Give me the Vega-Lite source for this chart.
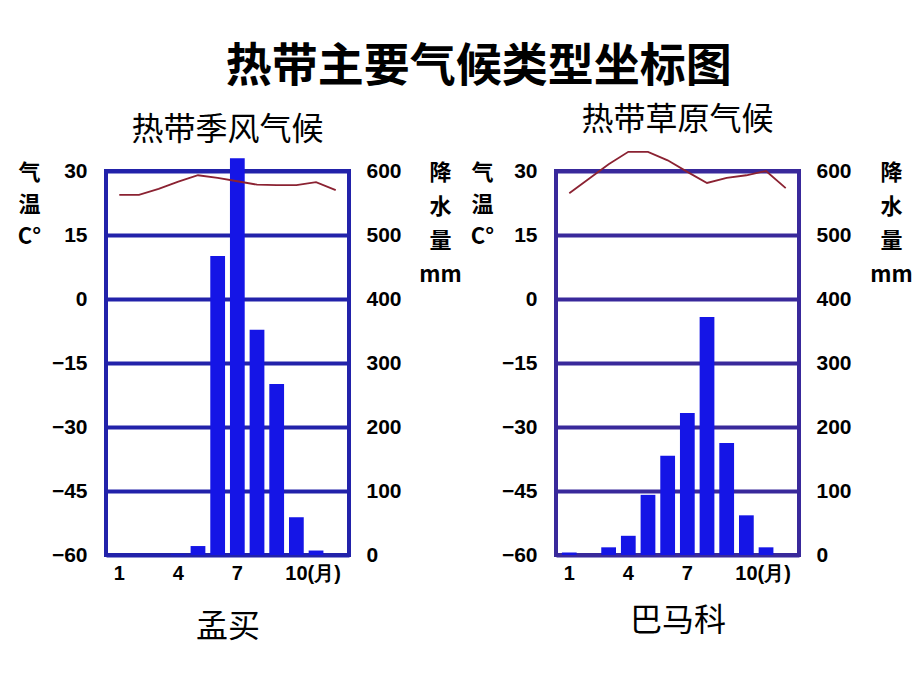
{
  "$schema": "https://vega.github.io/schema/vega-lite/v6.json",
  "background": "white",
  "padding": {"left": 15, "top": 44, "right": 10, "bottom": 10},
  "title": {"text": "热带主要气候类型坐标图", "font": "Noto Sans CJK SC", "fontSize": 46, "fontWeight": "bold", "color": "black", "anchor": "middle", "offset": 11, "dx": 14},
  "datasets": {
    "mumbai": [
      {"month": 1, "temp": 24.4, "precip": 0},
      {"month": 2, "temp": 24.4, "precip": 0},
      {"month": 3, "temp": 25.8, "precip": 0},
      {"month": 4, "temp": 27.5, "precip": 1},
      {"month": 5, "temp": 29.0, "precip": 14},
      {"month": 6, "temp": 28.4, "precip": 467},
      {"month": 7, "temp": 27.6, "precip": 620},
      {"month": 8, "temp": 26.8, "precip": 352},
      {"month": 9, "temp": 26.7, "precip": 267},
      {"month": 10, "temp": 26.7, "precip": 59},
      {"month": 11, "temp": 27.4, "precip": 7},
      {"month": 12, "temp": 25.5, "precip": 0}
    ],
    "bamako": [
      {"month": 1, "temp": 24.8, "precip": 4},
      {"month": 2, "temp": 28.2, "precip": 0},
      {"month": 3, "temp": 31.6, "precip": 12},
      {"month": 4, "temp": 34.5, "precip": 30},
      {"month": 5, "temp": 34.5, "precip": 94},
      {"month": 6, "temp": 32.5, "precip": 155},
      {"month": 7, "temp": 29.8, "precip": 222},
      {"month": 8, "temp": 27.2, "precip": 372},
      {"month": 9, "temp": 28.4, "precip": 175},
      {"month": 10, "temp": 29.0, "precip": 62},
      {"month": 11, "temp": 30.0, "precip": 12},
      {"month": 12, "temp": 26.0, "precip": 0}
    ]
  },
  "spacing": 207,
  "bounds": "flush",
  "hconcat": [
    {
      "data": {"name": "mumbai"},
      "width": 243,
      "height": 384,
      "title": {"text": "热带季风气候", "font": "Noto Sans CJK SC", "fontSize": 32, "fontWeight": "normal", "color": "black", "offset": 11},
      "view": {"stroke": "#2222aa", "strokeWidth": 4},
      "encoding": {
        "x": {
          "field": "month", "type": "ordinal",
          "scale": {"paddingInner": 0.25, "paddingOuter": 0.3},
          "axis": {
            "values": [1, 4, 7, 10], "labelAngle": 0, "ticks": false, "domain": false,
            "labelFont": "Liberation Sans", "labelFontSize": 20, "labelFontWeight": "bold", "labelColor": "black", "labelPadding": 8,
            "labelExpr": "datum.value == 10 ? '10(月)' : datum.label",
            "labelAlign": {"condition": {"test": "datum.value == 10", "value": "left"}, "value": "center"},
            "labelOffset": {"condition": {"test": "datum.value == 10", "value": -11}, "value": 0},
            "title": "孟买", "titleFont": "Noto Sans CJK SC", "titleFontSize": 32, "titleFontWeight": "normal", "titleColor": "black", "titlePadding": 28
          }
        }
      },
      "layer": [
        {
          "mark": {"type": "bar", "color": "#1515e6"},
          "encoding": {
            "y": {
              "field": "precip", "type": "quantitative",
              "scale": {"domain": [0, 600], "nice": false},
              "axis": {
                "orient": "right", "values": [0, 100, 200, 300, 400, 500, 600], "grid": false, "ticks": false, "domain": false,
                "labelFont": "Liberation Sans", "labelFontSize": 21, "labelFontWeight": "bold", "labelColor": "black", "labelPadding": 17,
                "title": ["降", "水", "量", "mm"], "titleAngle": 0, "titleX": 91, "titleY": -9, "titleAlign": "center", "titleBaseline": "top",
                "titleFont": "Noto Sans CJK SC", "titleFontSize": 22, "titleFontWeight": "bold", "titleColor": "black", "titleLineHeight": 34
              }
            }
          }
        },
        {
          "mark": {"type": "line", "color": "#8b2232", "strokeWidth": 1.8},
          "encoding": {
            "y": {
              "field": "temp", "type": "quantitative",
              "scale": {"domain": [-60, 30], "nice": false, "zero": false},
              "axis": {
                "orient": "left", "values": [-60, -45, -30, -15, 0, 15, 30], "grid": true, "gridColor": "#2222aa", "gridWidth": 4, "gridOpacity": 1,
                "ticks": false, "domain": false,
                "labelFont": "Liberation Sans", "labelFontSize": 21, "labelFontWeight": "bold", "labelColor": "black", "labelPadding": 19,
                "title": ["气", "温", "C°"], "titleAngle": 0, "titleX": -77, "titleY": -9, "titleAlign": "center", "titleBaseline": "top",
                "titleFont": "Noto Sans CJK SC", "titleFontSize": 22, "titleFontWeight": "bold", "titleColor": "black", "titleLineHeight": 32
              }
            }
          }
        }
      ],
      "resolve": {"scale": {"y": "independent"}, "axis": {"y": "independent"}}
    },
    {
      "data": {"name": "bamako"},
      "width": 243,
      "height": 384,
      "title": {"text": "热带草原气候", "font": "Noto Sans CJK SC", "fontSize": 32, "fontWeight": "normal", "color": "black", "offset": 11},
      "view": {"stroke": "#39299b", "strokeWidth": 4},
      "encoding": {
        "x": {
          "field": "month", "type": "ordinal",
          "scale": {"paddingInner": 0.25, "paddingOuter": 0.3},
          "axis": {
            "values": [1, 4, 7, 10], "labelAngle": 0, "ticks": false, "domain": false,
            "labelFont": "Liberation Sans", "labelFontSize": 20, "labelFontWeight": "bold", "labelColor": "black", "labelPadding": 8,
            "labelExpr": "datum.value == 10 ? '10(月)' : datum.label",
            "labelAlign": {"condition": {"test": "datum.value == 10", "value": "left"}, "value": "center"},
            "labelOffset": {"condition": {"test": "datum.value == 10", "value": -11}, "value": 0},
            "title": "巴马科", "titleFont": "Noto Sans CJK SC", "titleFontSize": 32, "titleFontWeight": "normal", "titleColor": "black", "titlePadding": 22
          }
        }
      },
      "layer": [
        {
          "mark": {"type": "bar", "color": "#1515e6"},
          "encoding": {
            "y": {
              "field": "precip", "type": "quantitative",
              "scale": {"domain": [0, 600], "nice": false},
              "axis": {
                "orient": "right", "values": [0, 100, 200, 300, 400, 500, 600], "grid": false, "ticks": false, "domain": false,
                "labelFont": "Liberation Sans", "labelFontSize": 21, "labelFontWeight": "bold", "labelColor": "black", "labelPadding": 17,
                "title": ["降", "水", "量", "mm"], "titleAngle": 0, "titleX": 92, "titleY": -9, "titleAlign": "center", "titleBaseline": "top",
                "titleFont": "Noto Sans CJK SC", "titleFontSize": 22, "titleFontWeight": "bold", "titleColor": "black", "titleLineHeight": 34
              }
            }
          }
        },
        {
          "mark": {"type": "line", "color": "#8b2232", "strokeWidth": 1.8},
          "encoding": {
            "y": {
              "field": "temp", "type": "quantitative",
              "scale": {"domain": [-60, 30], "nice": false, "zero": false},
              "axis": {
                "orient": "left", "values": [-60, -45, -30, -15, 0, 15, 30], "grid": true, "gridColor": "#39299b", "gridWidth": 4, "gridOpacity": 1,
                "ticks": false, "domain": false,
                "labelFont": "Liberation Sans", "labelFontSize": 21, "labelFontWeight": "bold", "labelColor": "black", "labelPadding": 19,
                "title": ["气", "温", "C°"], "titleAngle": 0, "titleX": -74, "titleY": -9, "titleAlign": "center", "titleBaseline": "top",
                "titleFont": "Noto Sans CJK SC", "titleFontSize": 22, "titleFontWeight": "bold", "titleColor": "black", "titleLineHeight": 32
              }
            }
          }
        }
      ],
      "resolve": {"scale": {"y": "independent"}, "axis": {"y": "independent"}}
    }
  ]
}
